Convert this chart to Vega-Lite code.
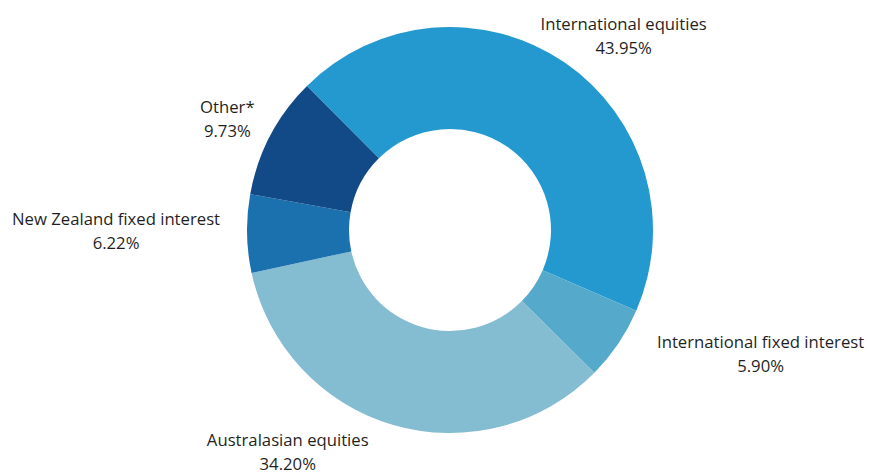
{
  "$schema": "https://vega.github.io/schema/vega-lite/v6.json",
  "width": 838,
  "height": 460,
  "autosize": "none",
  "padding": {"left": 31, "top": 0, "right": 0, "bottom": 14},
  "background": "white",
  "view": {"stroke": null},
  "data": {
    "values": [
      {"cat": "International equities", "value": 43.95, "rank": 1, "label": "International equities\n43.95%"},
      {"cat": "International fixed interest", "value": 5.90, "rank": 2, "label": "International fixed interest\n5.90%"},
      {"cat": "Australasian equities", "value": 34.20, "rank": 3, "label": "Australasian equities\n34.20%"},
      {"cat": "New Zealand fixed interest", "value": 6.22, "rank": 4, "label": "New Zealand fixed interest\n6.22%"},
      {"cat": "Other*", "value": 9.73, "rank": 5, "label": "Other*\n9.73%"}
    ]
  },
  "encoding": {
    "theta": {"field": "value", "type": "quantitative", "stack": true, "scale": {"range": [-0.7819, 5.5013]}},
    "order": {"field": "rank", "type": "quantitative"},
    "detail": {"field": "cat", "type": "nominal"}
  },
  "layer": [
    {
      "mark": {"type": "arc", "outerRadius": 203, "innerRadius": 101},
      "encoding": {
        "color": {
          "field": "cat", "type": "nominal", "legend": null,
          "scale": {
            "domain": ["International equities", "International fixed interest", "Australasian equities", "New Zealand fixed interest", "Other*"],
            "range": ["#2499CF", "#55A9CB", "#84BCD2", "#1B70AE", "#114A87"]
          }
        }
      }
    },
    {
      "mark": {"type": "text", "radius": 230, "align": "center", "baseline": "middle", "lineBreak": "\n", "lineHeight": 24, "font": "Open Sans", "fontSize": 16.7, "color": "#1f1f1f", "dx": 44, "dy": -15.5},
      "encoding": {"text": {"condition": {"test": "datum.cat === 'International equities'", "field": "label"}, "value": ""}}
    },
    {
      "mark": {"type": "text", "radius": 230, "align": "center", "baseline": "middle", "lineBreak": "\n", "lineHeight": 24, "font": "Open Sans", "fontSize": 16.7, "color": "#1f1f1f", "dx": 120, "dy": -16},
      "encoding": {"text": {"condition": {"test": "datum.cat === 'International fixed interest'", "field": "label"}, "value": ""}}
    },
    {
      "mark": {"type": "text", "radius": 230, "align": "center", "baseline": "middle", "lineBreak": "\n", "lineHeight": 23.5, "font": "Open Sans", "fontSize": 16.7, "color": "#1f1f1f", "dx": -98, "dy": -9.5},
      "encoding": {"text": {"condition": {"test": "datum.cat === 'Australasian equities'", "field": "label"}, "value": ""}}
    },
    {
      "mark": {"type": "text", "radius": 230, "align": "center", "baseline": "middle", "lineBreak": "\n", "lineHeight": 24, "font": "Open Sans", "fontSize": 16.7, "color": "#1f1f1f", "dx": -104, "dy": -14.5},
      "encoding": {"text": {"condition": {"test": "datum.cat === 'New Zealand fixed interest'", "field": "label"}, "value": ""}}
    },
    {
      "mark": {"type": "text", "radius": 230, "align": "center", "baseline": "middle", "lineBreak": "\n", "lineHeight": 24, "font": "Open Sans", "fontSize": 16.7, "color": "#1f1f1f", "dx": -19, "dy": -15},
      "encoding": {"text": {"condition": {"test": "datum.cat === 'Other*'", "field": "label"}, "value": ""}}
    }
  ]
}
